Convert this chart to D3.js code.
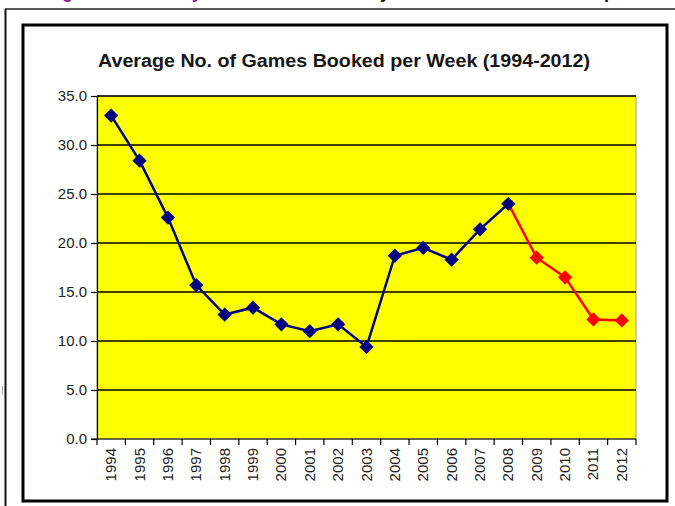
<!DOCTYPE html>
<html>
<head>
<meta charset="utf-8">
<script src="https://cdn.jsdelivr.net/npm/d3@7/dist/d3.min.js"></script>
<style>
  body { margin: 0; background: #fff; }
  svg { display: block; font-family: Arial, "Liberation Sans", sans-serif; }
</style>
</head>
<body>
<div class="chartWrap"></div>
<script>
//Data
const years = ["1994","1995","1996","1997","1998","1999","2000","2001","2002","2003",
               "2004","2005","2006","2007","2008","2009","2010","2011","2012"];
const gamesPerWeek = [33.0, 28.4, 22.6, 15.7, 12.7, 13.4, 11.7, 11.0, 11.7, 9.4,
                      18.7, 19.5, 18.3, 21.4, 24.0, 18.5, 16.5, 12.2, 12.1];
const splitYear = "2008"; //from here on the line is red
const yTicks = [0, 5, 10, 15, 20, 25, 30, 35];
const chartTitle = "Average No. of Games Booked per Week (1994-2012)";

//Layout
const W = 675, H = 506;
const plot = {left: 97, right: 636, top: 96, bottom: 439};

const svg = d3.select(".chartWrap").append("svg").attr("width", W).attr("height", H);

//Page fragments around the chart (heading above is cut off in the screenshot)
svg.append("line").attr("x1", 5).attr("x2", W).attr("y1", 9).attr("y2", 9)
  .attr("stroke", "#222").attr("stroke-width", 1.5);
svg.append("line").attr("x1", 5.5).attr("x2", 5.5).attr("y1", 9).attr("y2", H)
  .attr("stroke", "#111").attr("stroke-width", 2);
[{t: "g", x: 62, c: "#8a1a8a"}, {t: "y", x: 192, c: "#8a1a8a"},
 {t: "y", x: 380, c: "#111"}, {t: "p", x: 604, c: "#111"}].forEach(function(f) {
  svg.append("text").text(f.t).attr("x", f.x).attr("y", -2)
    .attr("font-size", 18).attr("font-weight", "bold").attr("fill", f.c);
});
svg.append("text").text("l").attr("x", 1).attr("y", 395)
  .attr("font-size", 13).attr("fill", "#aaa");

//Chart box
svg.append("rect").attr("x", 23).attr("y", 25).attr("width", 644).attr("height", 476)
  .attr("fill", "#fff").attr("stroke", "#000").attr("stroke-width", 3);

//Title
svg.append("text").text(chartTitle).attr("x", 344).attr("y", 67)
  .attr("text-anchor", "middle").attr("font-size", 18).attr("font-weight", "bold")
  .attr("textLength", 492).attr("lengthAdjust", "spacingAndGlyphs")
  .attr("fill", "#161616");

//Scales
const x = d3.scaleBand().domain(years).range([plot.left, plot.right]);
const y = d3.scaleLinear().domain([0, 35]).range([plot.bottom, plot.top]);

//Plot area
svg.append("rect").attr("x", plot.left).attr("y", plot.top)
  .attr("width", plot.right - plot.left).attr("height", plot.bottom - plot.top)
  .attr("fill", "#ffff00").attr("stroke", "#9a9a9a").attr("stroke-width", 1);

//Grid
svg.append("g").selectAll("line").data(yTicks.filter(d => d > 0)).enter()
  .append("line")
  .attr("x1", plot.left).attr("x2", plot.right)
  .attr("y1", d => y(d)).attr("y2", d => y(d))
  .attr("stroke", "#000").attr("stroke-width", 1.3);

//Y axis
const yAxis = svg.append("g").attr("transform", "translate(" + plot.left + ",0)")
  .call(d3.axisLeft(y).tickValues(yTicks).tickSize(6).tickPadding(4).tickFormat(d3.format(".1f")));
yAxis.select(".domain").attr("stroke", "#000").attr("stroke-width", 1.2);
yAxis.selectAll(".tick line").attr("stroke", "#000").attr("stroke-width", 1.2);
yAxis.selectAll("text").attr("font-size", 15).attr("fill", "#222")
  .attr("font-family", "Arial, 'Liberation Sans', sans-serif");

//X axis (ticks between categories)
const xAxisG = svg.append("g").attr("transform", "translate(0," + plot.bottom + ")");
xAxisG.append("line").attr("x1", plot.left - 6).attr("x2", plot.right)
  .attr("stroke", "#000").attr("stroke-width", 1.2);
xAxisG.selectAll(".sep").data(d3.range(years.length + 1)).enter()
  .append("line").attr("class", "sep")
  .attr("x1", i => plot.left + i * x.step()).attr("x2", i => plot.left + i * x.step())
  .attr("y1", 0).attr("y2", 6)
  .attr("stroke", "#000").attr("stroke-width", 1.2);
xAxisG.selectAll(".lbl").data(years).enter()
  .append("text").attr("class", "lbl").text(d => d)
  .attr("transform", d => "translate(" + (x(d) + x.bandwidth() / 2 + 5) + ",9) rotate(-90)")
  .attr("text-anchor", "end").attr("font-size", 15).attr("fill", "#222");

//Lines
const pts = years.map((d, i) => ({year: d, v: gamesPerWeek[i]}));
const splitIdx = years.indexOf(splitYear);
const line = d3.line().x(d => x(d.year) + x.bandwidth() / 2).y(d => y(d.v));
svg.append("path").datum(pts.slice(0, splitIdx + 1)).attr("d", line)
  .attr("fill", "none").attr("stroke", "#000080").attr("stroke-width", 2.5);
svg.append("path").datum(pts.slice(splitIdx)).attr("d", line)
  .attr("fill", "none").attr("stroke", "#ff0000").attr("stroke-width", 2.5);

//Markers
const diamond = d3.symbol().type(d3.symbolDiamond2).size(130);
svg.append("g").selectAll("path").data(pts).enter()
  .append("path").attr("d", diamond)
  .attr("transform", d => "translate(" + (x(d.year) + x.bandwidth() / 2) + "," + y(d.v) + ")")
  .attr("fill", (d, i) => i <= splitIdx ? "#000080" : "#ff0000");
</script>
</body>
</html>
